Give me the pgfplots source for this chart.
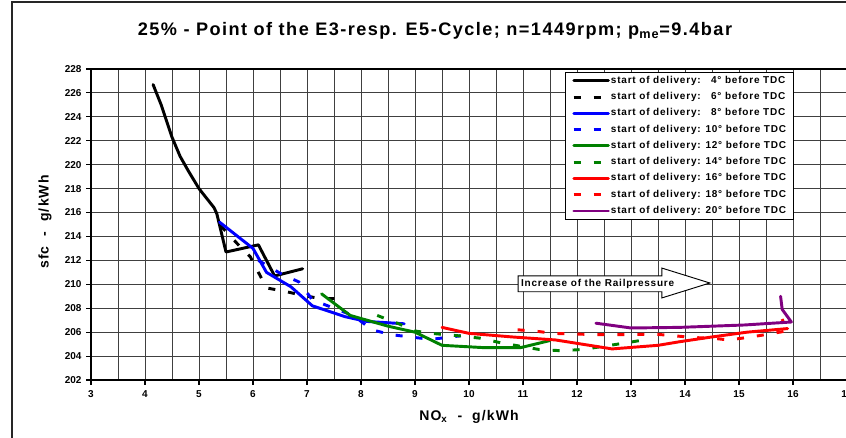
\documentclass[border=0pt]{standalone}
\usepackage{pgfplots}
\pgfplotsset{compat=1.18}
\usepackage{fontspec}
\setmainfont{Liberation Sans}
\newfontfamily\lsp{Liberation Sans}[LetterSpace=8]

\definecolor{cBlack}{RGB}{0,0,0}
\definecolor{cBlue}{RGB}{0,0,255}
\definecolor{cGreen}{RGB}{0,128,0}
\definecolor{cRed}{RGB}{255,0,0}
\definecolor{cPurple}{RGB}{128,0,128}

\tikzset{
  solidln/.style={line width=2.2pt, line join=round, line cap=round},
  dashln/.style={line width=2.2pt, line join=round, dash pattern=on 5.25pt off 9.75pt},
}

\begin{document}
\begin{tikzpicture}
\useasboundingbox (0pt,0pt) rectangle (634.5pt,-327.75pt);
\clip (0pt,0pt) rectangle (634.5pt,-327.75pt);
% outer frame
\draw[line width=1.1pt, black!85] (9pt,-1.5pt) rectangle (650pt,-340pt);

\begin{axis}[
  at={(68.25pt,-285pt)}, anchor=south west,
  scale only axis, width=567pt, height=233.25pt,
  xmin=3, xmax=17, ymin=202, ymax=228,
  xtick={3,...,17}, ytick={202,204,...,228},
  minor x tick num=1,
  grid=both,
  major grid style={black!75, line width=0.7pt},
  minor grid style={black!75, line width=0.7pt},
  axis line style={black, line width=1pt},
  tick pos=left, tick align=outside,
  major tick length=3.6pt, minor tick length=0pt,
  tick style={black, line width=0.8pt},
  /pgf/number format/assume math mode=true,
  ticklabel style={font=\bfseries\fontsize{7.5}{9}\selectfont},
  xticklabel style={yshift=-1pt},
  every axis title shift=0pt,
  title={\lsp\bfseries\fontsize{13.6}{16}\selectfont 25\% - Point of the E3-resp. E5-Cycle; n=1449rpm; p\textsubscript{me}=9.4bar},
  title style={at={(0.455,1.122)}, anchor=center},
  xlabel={\lsp\bfseries\fontsize{10.5}{12}\selectfont NO\textsubscript{x} \ - \ g/kWh},
  xlabel style={at={(0.5,-0.1175)}, anchor=center},
  ylabel={\lsp\bfseries\fontsize{10.5}{12}\selectfont sfc \ - \ g/kWh},
  ylabel style={at={(-0.0608,0.508)}, anchor=center, rotate=0},
  legend image code/.code={\draw[#1, line width=2.2pt] (0pt,0pt) -- (26pt,0pt);},
  legend cell align=left,
  legend style={
    at={(0.627,0.990)}, anchor=north west,
    draw=black, line width=0.9pt, fill=white,
    font=\lsp\bfseries\fontsize{7.5}{9}\selectfont,
    inner xsep=5pt, inner ysep=1.8pt,
    row sep=3.6pt,
    nodes={inner sep=0.8pt, text height=5.4pt, text depth=1.6pt},
  },
]

% start of delivery 4 deg
\addplot[cBlack, solidln] coordinates {
  (4.15,226.7) (4.30,225.0) (4.50,222.3) (4.65,220.7) (4.80,219.5)
  (5.00,218.0) (5.28,216.4) (5.33,215.9) (5.50,212.7) (6.10,213.3)
  (6.40,210.7) (6.92,211.3)
};
% 6 deg
\addplot[cBlack, dashln] coordinates {
  (5.40,214.9) (5.75,213.2) (5.95,212.3) (6.10,211.0) (6.25,209.7)
  (6.60,209.4) (6.90,209.1) (7.25,208.8) (7.70,208.8)
};
% 8 deg
\addplot[cBlue, solidln] coordinates {
  (5.38,215.2) (6.00,213.0) (6.25,211.0) (6.70,209.8) (7.10,208.2)
  (7.70,207.3) (8.10,206.9) (8.80,206.7)
};
% 10 deg
\addplot[cBlue, dashln] coordinates {
  (6.10,212.0) (6.55,210.8) (6.85,210.2) (7.10,208.7) (7.50,208.0)
  (7.85,207.4) (8.00,206.9) (8.20,206.2) (8.55,205.8) (8.90,205.6)
  (9.30,205.4) (9.85,205.7)
};
% 12 deg
\addplot[cGreen, solidln] coordinates {
  (7.27,209.2) (7.80,207.4) (8.50,206.5) (9.00,206.0) (9.50,204.9)
  (10.30,204.7) (10.95,204.7) (11.50,205.3)
};
% 14 deg
\addplot[cGreen, dashln] coordinates {
  (8.30,207.4) (8.70,206.7) (9.00,206.1) (9.30,205.9) (9.80,205.7)
  (10.20,205.5) (10.60,205.1) (11.30,204.55) (11.70,204.45) (12.10,204.55)
  (12.90,205.1) (13.30,205.4)
};
% 16 deg
\addplot[cRed, solidln] coordinates {
  (9.50,206.4) (10.00,205.9) (10.80,205.6) (11.60,205.35) (12.65,204.6)
  (13.50,204.9) (13.90,205.2) (14.50,205.6) (15.15,206.0) (15.90,206.3)
};
% 18 deg
\addplot[cRed, dashln] coordinates {
  (10.90,206.2) (11.30,206.05) (11.55,205.9) (11.90,205.85) (12.30,205.8)
  (12.70,205.8) (13.10,205.8) (13.40,205.85) (13.80,205.7) (14.15,205.55)
  (14.50,205.5) (14.80,205.35) (15.15,205.55) (15.50,205.8) (15.88,206.1)
  (15.80,207.1)
};
% 20 deg
\addplot[cPurple, solidln] coordinates {
  (12.35,206.75) (13.00,206.35) (13.90,206.4) (15.10,206.6) (15.97,206.85)
  (15.80,207.9) (15.77,209.0)
};

\legend{
  start of delivery: \phantom{0}4° before TDC,
  start of delivery: \phantom{0}6° before TDC,
  start of delivery: \phantom{0}8° before TDC,
  start of delivery: 10° before TDC,
  start of delivery: 12° before TDC,
  start of delivery: 14° before TDC,
  start of delivery: 16° before TDC,
  start of delivery: 18° before TDC,
  start of delivery: 20° before TDC
}

% rail pressure arrow
\draw[black, line width=0.7pt, fill=white]
  (axis cs:10.91,210.70) -- (axis cs:13.57,210.70) -- (axis cs:13.57,211.36)
  -- (axis cs:14.46,210.11) -- (axis cs:13.57,208.86) -- (axis cs:13.57,209.38)
  -- (axis cs:10.91,209.38) -- cycle;
\node[anchor=west, inner sep=0pt, font=\lsp\bfseries\fontsize{7.5}{9}\selectfont]
  at (axis cs:10.96,210.04) {Increase of the Railpressure};
\end{axis}
\end{tikzpicture}
\end{document}
